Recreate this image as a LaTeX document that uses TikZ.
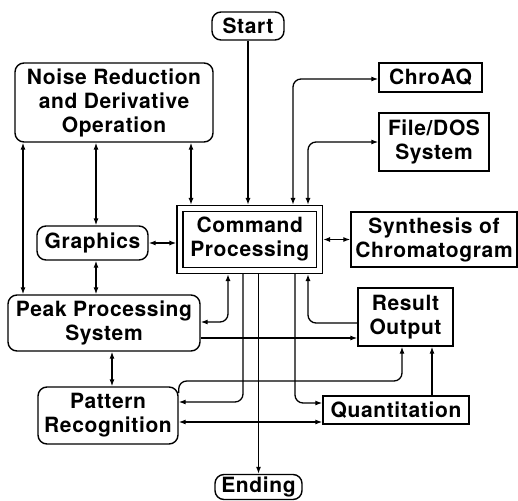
\documentclass[tikz,border=0pt]{standalone}
\usepackage{fontspec}
\setmainfont{TeX Gyre Heros}[LetterSpace=3]
\usetikzlibrary{arrows.meta}
\begin{document}
\begin{tikzpicture}[x=1pt,y=-1pt,
  box/.style={draw, line width=1.4pt, inner sep=0pt, align=center,
    font=\fontsize{21}{24}\selectfont\bfseries},
  rbox/.style={box, rounded corners=9pt},
  conn/.style={line width=1.3pt, rounded corners=8pt},
  tip/.tip={Latex[length=7pt,width=5pt]},
  arr/.style={conn, -tip},
  darr/.style={conn, tip-tip}]
\useasboundingbox (0,0) rectangle (518,500);

% nodes
\node[rbox, minimum width=72pt, minimum height=28pt] (start) at (248,26) {Start};
\node[rbox, minimum width=198pt, minimum height=79pt] (noise) at (114,102.5)
  {Noise Reduction\\and Derivative\\Operation};
\node[box, minimum width=103pt, minimum height=29pt] (chroaq) at (430.5,77.5) {ChroAQ};
\node[box, minimum width=110pt, minimum height=58pt] (filedos) at (434,142) {File/DOS\\System};
\node[box, double, double distance=4.5pt, line width=1.3pt, outer sep=3.55pt,
  minimum width=139.5pt, minimum height=62pt] (cp) at (249.75,239.5) {Command\\Processing};
\node[box, minimum width=166pt, minimum height=55pt] (synth) at (434,239.5)
  {Synthesis of\\Chromatogram};
\node[rbox, minimum width=111pt, minimum height=34pt] (graphics) at (92.5,243) {Graphics};
\node[rbox, minimum width=192pt, minimum height=56pt] (pps) at (104,323)
  {Peak Processing\\System};
\node[box, minimum width=95pt, minimum height=58pt] (result) at (405.5,317) {Result\\Output};
\node[rbox, minimum width=140pt, minimum height=57pt] (pattern) at (108,415.5)
  {Pattern\\Recognition};
\node[box, minimum width=146pt, minimum height=28pt] (quant) at (396,410) {Quantitation};
\node[rbox, minimum width=87pt, minimum height=25pt] (ending) at (258.5,487) {Ending};

% guide coordinates
\coordinate (X23) at (23,0);
\coordinate (X96) at (96,0);
\coordinate (X112) at (112,0);
\coordinate (X191) at (191,0);
\coordinate (X228) at (228,0);
\coordinate (X243) at (243,0);
\coordinate (X293) at (293,0);
\coordinate (X295) at (295,0);
\coordinate (X308) at (308,0);
\coordinate (X402) at (402,0);
\coordinate (X432) at (432,0);
\coordinate (Y79) at (0,79);
\coordinate (Y322) at (0,322);
\coordinate (Y323) at (0,323);
\coordinate (Y338) at (0,338);
\coordinate (Y381) at (0,381);
\coordinate (Y393) at (0,393);
\coordinate (Y402) at (0,402);
\coordinate (Y403) at (0,403);
\coordinate (Y422) at (0,422);

% connectors
\draw[arr] (start.south) -- (start.south |- cp.north);
\draw[darr] (noise.south -| X23) -- (pps.north -| X23);
\draw[darr] (noise.south -| X96) -- (graphics.north -| X96);
\draw[darr] (noise.south -| X191) -- (cp.north -| X191);
\draw[darr] (cp.north -| X293) |- (chroaq.west |- Y79);
\draw[darr] (cp.north -| X308) |- (filedos.west);
\draw[darr] (graphics.east) -- (graphics.east -| cp.west);
\draw[darr] (cp.east) -- (cp.east -| synth.west);
\draw[darr] (graphics.south -| X96) -- (pps.north -| X96);
\draw[darr] (pps.south -| X112) -- (pattern.north -| X112);
\draw[darr] (cp.south -| X228) |- (pps.east |- Y322);
\draw[arr] (result.west |- Y323) -| (cp.south -| X308);
\draw[arr] (pps.east |- Y338) -- (result.west |- Y338);
\draw[arr] (pattern.east |- Y393) -- (pattern.east |- Y381) -| (result.south -| X402);
\draw[arr] (cp.south -| X243) |- (pattern.east |- Y402);
\draw[arr] (cp.south -| ending.north) -- (ending.north);
\draw[arr] (cp.south -| X295) |- (quant.west |- Y403);
\draw[darr] (pattern.east |- Y422) -- (quant.west |- Y422);
\draw[arr] (quant.north -| X432) -- (result.south -| X432);
\end{tikzpicture}
\end{document}
